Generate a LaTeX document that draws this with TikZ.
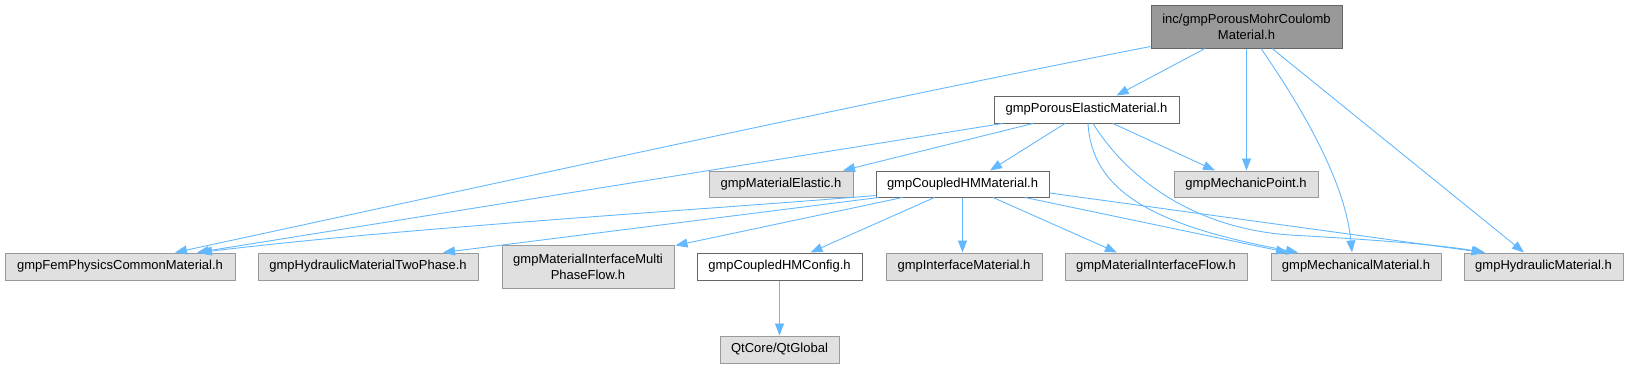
\documentclass[tikz,border=0pt]{standalone}
\usepackage{fontspec}
\setmainfont{Liberation Sans}
\usetikzlibrary{arrows.meta}
\definecolor{edgec}{HTML}{63B8FF}
\definecolor{grayfill}{HTML}{E0E0E0}
\definecolor{grayline}{HTML}{999999}
\definecolor{darkline}{HTML}{666666}
\definecolor{topfill}{HTML}{999999}
\begin{document}
\begin{tikzpicture}[x=1pt,y=-1pt,
  base/.style={draw, inner sep=0pt, align=center, font=\fontsize{13pt}{16pt}\selectfont, minimum height=27pt, line width=1pt},
  sys/.style={base, fill=grayfill, draw=grayline},
  loc/.style={base, fill=white, draw=darkline},
  root/.style={base, fill=topfill, draw=darkline},
  dep/.style={draw=edgec, line width=0.9pt, -{Triangle[length=12pt,width=9pt]}}
]
\useasboundingbox (0,0) rectangle (1629,368);

% nodes
\node[root, minimum width=191pt, minimum height=43pt] (top) at (1246.5,26.5) {inc/gmpPorousMohrCoulomb\\Material.h};
\node[loc, minimum width=185pt] (porous) at (1086.5,109.5) {gmpPorousElasticMaterial.h};
\node[sys, minimum width=144pt, minimum height=26pt] (elastic) at (781,184) {gmpMaterialElastic.h};
\node[loc, minimum width=173pt, minimum height=26pt] (coupled) at (962.5,184) {gmpCoupledHMMaterial.h};
\node[sys, minimum width=144pt, minimum height=26pt] (mpoint) at (1246,184) {gmpMechanicPoint.h};
\node[sys, minimum width=230pt] (fem) at (120,266.5) {gmpFemPhysicsCommonMaterial.h};
\node[sys, minimum width=220pt] (twophase) at (368,266.5) {gmpHydraulicMaterialTwoPhase.h};
\node[sys, minimum width=172pt, minimum height=43pt] (multi) at (588,266.5) {gmpMaterialInterfaceMulti\\PhaseFlow.h};
\node[loc, minimum width=165pt] (config) at (779.5,266.5) {gmpCoupledHMConfig.h};
\node[sys, minimum width=156pt] (iface) at (964,266.5) {gmpInterfaceMaterial.h};
\node[sys, minimum width=182pt] (iflow) at (1156,266.5) {gmpMaterialInterfaceFlow.h};
\node[sys, minimum width=170pt] (mech) at (1356,266.5) {gmpMechanicalMaterial.h};
\node[sys, minimum width=159pt] (hyd) at (1543.5,266.5) {gmpHydraulicMaterial.h};
\node[sys, minimum width=119pt] (qt) at (779.5,349.5) {QtCore/QtGlobal};

\coordinate (hbend) at (1290,235);

% edges from top
\draw[dep] ([yshift=2pt]top.south west) .. controls (850,105) and (420,200) .. ([xshift=55pt]fem.north);
\draw[dep] ([xshift=-41.5pt]top.south) -- ([xshift=30pt]porous.north);
\draw[dep] (top.south) -- (top.south |- mpoint.north);
\draw[dep] ([xshift=14.5pt]top.south) .. controls (1300,105) and (1345,180) .. ([xshift=-4pt]mech.north);
\draw[dep] ([xshift=25.5pt]top.south) -- ([xshift=-19.5pt]hyd.north);

% edges from porous
\draw[dep] ([xshift=9pt]porous.south west) -- ([xshift=77pt]fem.north);
\draw[dep] ([xshift=-53.5pt]porous.south) -- ([xshift=62pt]elastic.north);
\draw[dep] ([xshift=-21.5pt]porous.south) -- ([xshift=27.5pt]coupled.north);
\draw[dep] ([xshift=26.5pt]porous.south) -- ([xshift=-31pt]mpoint.north);
\draw[dep] ([xshift=1.5pt]porous.south) .. controls (1092,190) and (1150,225) .. ([xshift=-58pt]mech.north);
\draw[dep] ([xshift=6.5pt]porous.south) .. controls (1125,175) and (1190,228) .. (hbend) .. controls (1380,240) and (1440,245) .. ([xshift=-58.5pt]hyd.north);

% edges from coupled
\draw[dep] ([yshift=2pt]coupled.south west) .. controls (700,210) and (400,228) .. ([xshift=80pt]fem.north);
\draw[dep] ([xshift=3pt]coupled.south west) -- ([xshift=75pt]twophase.north);
\draw[dep] ([xshift=-60pt]coupled.south) -- ([xshift=1pt,yshift=-1pt]multi.north east);
\draw[dep] ([xshift=-28pt]coupled.south) -- ([xshift=31pt]config.north);
\draw[dep] (coupled.south) -- (coupled.south |- iface.north);
\draw[dep] ([xshift=30.5pt]coupled.south) -- ([xshift=-39pt]iflow.north);
\draw[dep] ([xshift=62.5pt]coupled.south) -- ([xshift=-68pt]mech.north);
\draw[dep] ([yshift=-9pt]coupled.east) -- ([xshift=-60pt]hyd.north);

% config
\draw[dep] (config.south) -- (config.south |- qt.north);
\end{tikzpicture}
\end{document}
